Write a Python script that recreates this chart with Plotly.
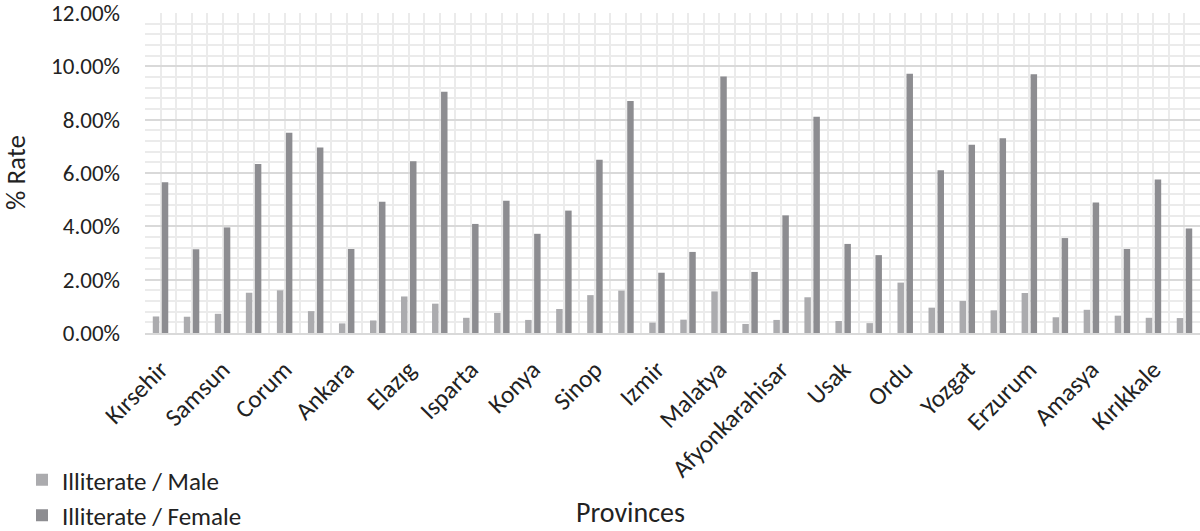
import plotly.graph_objects as go

# Tick labels shown on the x axis (every other province is labelled)
shown_labels = ["Kırsehir", "Samsun", "Corum", "Ankara", "Elazıg", "Isparta", "Konya",
                "Sinop", "Izmir", "Malatya", "Afyonkarahisar", "Usak", "Ordu", "Yozgat",
                "Erzurum", "Amasya", "Kırıkkale"]

# Category positions (34 provinces)
positions = list(range(34))

# % rate values
male = [0.62, 0.61, 0.72, 1.51, 1.60, 0.82, 0.36, 0.47, 1.37, 1.10, 0.57, 0.75,
        0.49, 0.90, 1.42, 1.59, 0.39, 0.50, 1.56, 0.34, 0.49, 1.34, 0.45, 0.37,
        1.89, 0.95, 1.20, 0.85, 1.50, 0.59, 0.87, 0.65, 0.57, 0.56]
female = [5.65, 3.14, 3.96, 6.34, 7.51, 6.96, 3.15, 4.92, 6.44, 9.05, 4.09, 4.96,
          3.72, 4.59, 6.50, 8.70, 2.26, 3.04, 9.62, 2.29, 4.41, 8.11, 3.34, 2.92,
          9.72, 6.10, 7.06, 7.30, 9.70, 3.56, 4.89, 3.15, 5.76, 3.92]

y_ticks = [0, 2, 4, 6, 8, 10, 12]

FONT = "Carlito, Lato, sans-serif"
TXT = "#222222"

L, R, T, B = 145, 0, 13, 198
W, H = 1200, 531
PW, PH = W - L - R, H - T - B

fig = go.Figure()
fig.add_trace(go.Bar(x=positions, y=male, name="Illiterate / Male",
                     marker=dict(color="#ababae", line=dict(width=0))))
fig.add_trace(go.Bar(x=positions, y=female, name="Illiterate / Female",
                     marker=dict(color="#8d8d91", line=dict(width=0))))

# x gridlines at every half category, labels on every other category
grid_vals = [i * 0.5 - 0.5 for i in range(2 * len(positions) + 1)]
grid_text = []
for v in grid_vals:
    if v >= 0 and float(v).is_integer() and int(v) % 2 == 0:
        grid_text.append(shown_labels[int(v) // 2])
    else:
        grid_text.append("")

fig.update_layout(
    width=W, height=H,
    margin=dict(l=L, r=R, t=T, b=B, autoexpand=False),
    paper_bgcolor="white", plot_bgcolor="white",
    barmode="group", bargap=0.42, bargroupgap=0.28,
    font=dict(family=FONT, color=TXT),
    showlegend=True,
    legend=dict(x=(22 - L) / PW, y=(H - B - 457) / PH,
                xanchor="left", yanchor="top", font=dict(size=25, family=FONT, color=TXT),
                itemwidth=30, tracegroupgap=0, bgcolor="rgba(0,0,0,0)"),
    xaxis=dict(range=[-0.5, 33.5], tickmode="array", tickvals=grid_vals, ticktext=grid_text,
               tickangle=-45, showgrid=True, gridcolor="#ebebeb", gridwidth=2,
               zeroline=False, showline=True, linecolor="#d9d9d9", linewidth=2,
               automargin=False, ticks="", ticklabeloverflow="allow", ticklabelstandoff=10,
               tickfont=dict(size=25, family=FONT, color=TXT)),
    yaxis=dict(range=[0, 12], tickmode="array", tickvals=y_ticks,
               ticktext=[f"{v:.2f}%" for v in y_ticks],
               showgrid=True, gridcolor="#d9d9d9", gridwidth=2,
               minor=dict(dtick=0.4, tick0=0, showgrid=True, gridcolor="#ebebeb", gridwidth=2),
               zeroline=False, showline=False, ticks="", ticklabelstandoff=24,
               ticklabeloverflow="allow",
               automargin=False, tickfont=dict(size=23, family=FONT, color=TXT)),
    annotations=[
        dict(text="Provinces", xref="paper", yref="paper", x=(630 - L) / PW,
             y=(H - B - 512) / PH, showarrow=False, xanchor="center", yanchor="middle",
             font=dict(size=28, family=FONT, color=TXT)),
        dict(text="% Rate", xref="paper", yref="paper", x=(15 - L) / PW,
             y=0.5, showarrow=False, xanchor="center", yanchor="middle", textangle=-90,
             font=dict(size=27, family=FONT, color=TXT)),
    ],
)

fig.write_html("out.html", config={"displayModeBar": False},
               post_script="document.body.style.margin='0';")
